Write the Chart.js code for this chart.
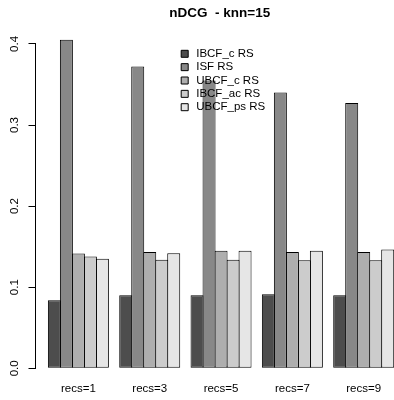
<!DOCTYPE html>
<html>
<head>
<meta charset="utf-8">
<script src="https://cdn.jsdelivr.net/npm/chart.js@4/dist/chart.umd.min.js"></script>
<style>
  html, body { margin: 0; padding: 0; background: #fff; overflow: hidden; }
  #wrap { width: 394px; height: 400px; overflow: hidden; }
  canvas { display: block; }
</style>
</head>
<body>
<div id="wrap"><canvas id="c" width="404" height="400"></canvas></div>
<script>
// ---- data ----
const recs = [1, 3, 5, 7, 9];
const categories = ['recs=1', 'recs=3', 'recs=5', 'recs=7', 'recs=9'];
const seriesNames = ['IBCF_c RS', 'ISF RS', 'UBCF_c RS', 'IBCF_ac RS', 'UBCF_ps RS'];
const ibcfC  = [0.084, 0.090, 0.090, 0.0914, 0.090];
const isf    = [0.405, 0.372, 0.355, 0.340, 0.327];
const ubcfC  = [0.1415, 0.1435, 0.1448, 0.1435, 0.1435];
const ibcfAc = [0.138, 0.134, 0.134, 0.1333, 0.1333];
const ubcfPs = [0.135, 0.142, 0.1448, 0.1448, 0.1465];
const yTicks = [0, 0.1, 0.2, 0.3, 0.4];
const titleText = 'nDCG  - knn=15';

const seriesValues = [ibcfC, isf, ubcfC, ibcfAc, ubcfPs];
const fills = ['#4D4D4D', '#888888', '#AEAEAE', '#CCCCCC', '#E6E6E6'];
const FONT = "'Liberation Sans', Arial, sans-serif";

Chart.defaults.color = '#000';
Chart.defaults.font.family = FONT;

const datasets = seriesNames.map((name, k) => ({
  label: name,
  data: recs.map((r, i) => ({ x: r, y: seriesValues[k][i] })),
  backgroundColor: fills[k],
  borderColor: '#000',
  borderWidth: 1,
  borderSkipped: false,
  inflateAmount: 0,
  clip: false,
  categoryPercentage: 0.8412,
  barPercentage: 13 / 12
}));

const legendPlacer = {
  id: 'legendPlacer',
  beforeLayout(chart) {
    const lg = chart.legend;
    if (lg) {
      lg._layers = () => [{ z: 1, draw: (ca) => lg.draw(ca) }];
    }
  },
  afterLayout(chart) {
    const lg = chart.legend;
    if (!lg) return;
    const w = 120, h = 200;
    lg.left = 177.1; lg.top = 46.2;
    lg.right = lg.left + w; lg.bottom = lg.top + h;
    lg.width = w; lg.height = h;
  }
};

new Chart(document.getElementById('c'), {
  type: 'bar',
  data: { datasets },
  plugins: [legendPlacer],
  options: {
    responsive: false,
    animation: false,
    devicePixelRatio: 1,
    layout: { padding: 0 },
    scales: {
      x: {
        type: 'linear',
        offset: false,
        min: -0.2027,
        max: 10.13,
        afterBuildTicks: (scale) => { scale.ticks = recs.map(v => ({ value: v })); },
        afterFit: (scale) => { scale.height = 31.7; },
        ticks: {
          autoSkip: false,
          maxRotation: 0,
          padding: 14,
          font: { size: 11.5 },
          callback: (v) => categories[recs.indexOf(v)]
        },
        grid: { display: false, drawTicks: false },
        border: { display: false }
      },
      y: {
        min: 0,
        max: 0.4,
        afterBuildTicks: (scale) => { scale.ticks = yTicks.map(v => ({ value: v })); },
        afterFit: (scale) => { scale.width = 35.5; },
        ticks: {
          minRotation: 90,
          maxRotation: 90,
          crossAlign: 'center',
          padding: 5.5,
          font: { size: 11.5 },
          callback: (v) => Number(v).toFixed(1)
        },
        grid: { display: true, drawOnChartArea: false, drawTicks: true, tickLength: 7, color: '#000', lineWidth: 1 },
        border: { display: true, color: '#000', width: 1 }
      }
    },
    plugins: {
      title: {
        display: true,
        text: titleText,
        fullSize: false,
        font: { size: 13.5, weight: 'bold', family: FONT },
        color: '#000',
        padding: { top: 4.7, bottom: 23 }
      },
      legend: {
        display: true,
        position: 'chartArea',
        align: 'start',
        labels: {
          usePointStyle: true,
          pointStyle: 'rect',
          boxHeight: 7,
          boxWidth: 40,
          padding: 1.85,
          color: '#000',
          font: { size: 11.5, family: FONT }
        }
      },
      tooltip: { enabled: false }
    }
  }
});
</script>
</body>
</html>
